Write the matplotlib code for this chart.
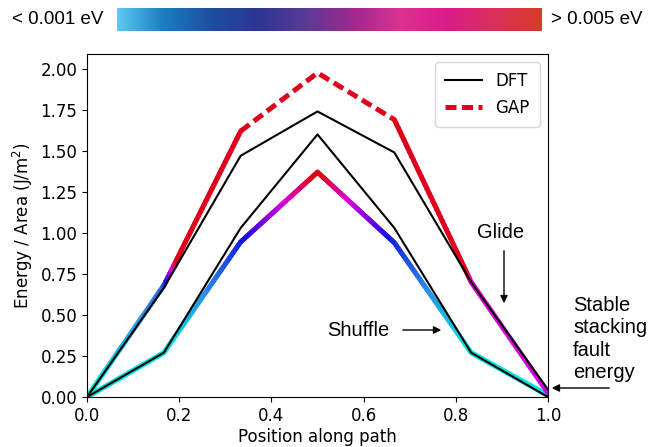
import numpy as np
import matplotlib
matplotlib.use("Agg")
import matplotlib.pyplot as plt
from matplotlib.collections import LineCollection
from matplotlib.colors import LinearSegmentedColormap, Normalize
from matplotlib.lines import Line2D

# ---------------- data ----------------
position = [0.0, 1/6, 2/6, 0.5, 4/6, 5/6, 1.0]
glide_dft = [0.0, 0.665, 1.47, 1.74, 1.49, 0.70, 0.045]
shuffle_dft = [0.0, 0.27, 1.03, 1.60, 1.03, 0.27, 0.0]
glide_gap = [0.0, 0.68, 1.62, 1.975, 1.69, 0.70, 0.025]
shuffle_gap = [0.0, 0.27, 0.945, 1.37, 0.94, 0.27, 0.01]
# force error per point (eV), used for line colouring
glide_err = [0.0008, 0.0020, 0.0200, 0.0200, 0.0200, 0.0041, 0.0039]
shuffle_err = [0.0008, 0.0009, 0.0024, 0.0052, 0.0024, 0.0009, 0.0008]
err_min, err_max = 0.001, 0.005
yticks = [0.00, 0.25, 0.50, 0.75, 1.00, 1.25, 1.50, 1.75, 2.00]
xticks = [0.0, 0.2, 0.4, 0.6, 0.8, 1.0]

line_cmap = LinearSegmentedColormap.from_list(
    "errline",
    [(0.0, "#00e2e2"), (0.18, "#2a8fe6"), (0.38, "#1010e0"),
     (0.58, "#8000e0"), (0.76, "#dc00dc"), (1.0, "#e0001b")])
bar_cmap = LinearSegmentedColormap.from_list(
    "errbar",
    ["#5bc9f1", "#1a7cc0", "#1d4f9e", "#2e3592", "#5a3a96", "#a0288e",
     "#dc3290", "#dc1a8a", "#d8305a", "#d83a28"])
norm = Normalize(err_min, err_max)
RED = "#e0001b"

fig = plt.figure(figsize=(6.52, 4.47), dpi=100)
ax = fig.add_axes([87/652, 1-397/447, (548-87)/652, (397-54)/447])


def colored_line(x, y, e, skip=()):
    segs, cols = [], []
    n = 40
    for i in range(len(x) - 1):
        if i in skip:
            continue
        t = np.linspace(0, 1, n + 1)
        xs = x[i] + (x[i+1] - x[i]) * t
        ys = y[i] + (y[i+1] - y[i]) * t
        es = e[i] + (e[i+1] - e[i]) * t
        for k in range(n):
            segs.append([(xs[k], ys[k]), (xs[k+1], ys[k+1])])
            cols.append(line_cmap(norm(0.5 * (es[k] + es[k+1]))))
    lc = LineCollection(segs, colors=cols, linewidths=3.6, capstyle="round",
                        joinstyle="round", zorder=2)
    ax.add_collection(lc)


colored_line(position, shuffle_gap, shuffle_err)
colored_line(position, glide_gap, glide_err, skip=(2, 3))
ax.plot(position[2:5], glide_gap[2:5], color=RED, lw=3.6,
        dashes=(2.2, 1.1), zorder=2)

ax.plot(position, glide_dft, color="black", lw=1.5, zorder=3)
ax.plot(position, shuffle_dft, color="black", lw=1.5, zorder=3)

ax.set_xlim(0, 1)
ax.set_ylim(0, 2.09)
ax.set_xticks(xticks)
ax.set_yticks(yticks)
ax.tick_params(labelsize=12)
ax.set_xlabel("Position along path", fontsize=12, labelpad=2)
ax.set_ylabel("Energy / Area (J/m$^2$)", fontsize=12)

handles = [Line2D([], [], color="black", lw=1.5),
           Line2D([], [], color=RED, lw=3.6, dashes=(2.2, 1.1))]
ax.legend(handles, ["DFT", "GAP"], loc="upper right", fontsize=12,
          handlelength=2.2, borderpad=0.6)

# annotations (Helvetica-like)
afont = dict(family="Liberation Sans", fontsize=14.5)
arrowkw = dict(arrowstyle="-|>", color="black", lw=1.0, mutation_scale=11)
ax.annotate("", xy=(504, 447-306), xytext=(504, 447-248), xycoords="figure pixels",
            textcoords="figure pixels", arrowprops=arrowkw)
fig.text(501/652, 1-233/447, "Glide", ha="center", va="center", **afont)
ax.annotate("", xy=(444, 447-330), xytext=(400, 447-330), xycoords="figure pixels",
            textcoords="figure pixels", arrowprops=arrowkw)
fig.text(358/652, 1-330/447, "Shuffle", ha="center", va="center", **afont)
ax.annotate("", xy=(549, 447-388), xytext=(612, 447-388), xycoords="figure pixels",
            textcoords="figure pixels", annotation_clip=False, arrowprops=arrowkw)
fig.text(573/652, 1-339/447, "Stable\nstacking\nfault\nenergy", ha="left",
         va="center", linespacing=1.22, **afont)

# colour bar at the top
cax = fig.add_axes([117/652, 1-31/447, 425/652, 23/447])
grad = np.linspace(0, 1, 512).reshape(1, -1)
cax.imshow(grad, aspect="auto", cmap=bar_cmap, extent=(0, 1, 0, 1))
cax.set_axis_off()
bfont = dict(family="Liberation Sans", fontsize=13.5)
fig.text(58/652, 1-19/447, "< 0.001 eV", ha="center", va="center", **bfont)
fig.text(597/652, 1-19/447, "> 0.005 eV", ha="center", va="center", **bfont)

fig.savefig("out.png", dpi=100)
